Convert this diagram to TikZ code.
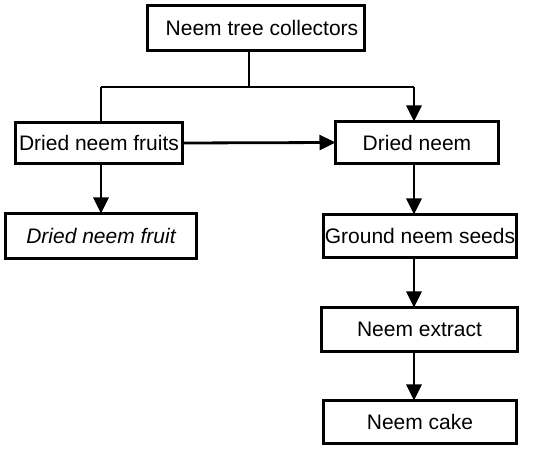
\documentclass[tikz,border=0pt]{standalone}
\usepackage{fontspec}
\setmainfont{Liberation Sans}
\usetikzlibrary{arrows.meta}
\begin{document}
\begin{tikzpicture}[x=1pt,y=-1pt,
  box/.style={draw=black,line width=3.2pt,rectangle,inner sep=0pt,outer sep=0pt,font=\fontsize{21}{25}\selectfont},
  link/.style={line width=2.8pt},
  arr/.style={link,-{Triangle[width=15pt,length=16pt]}}]
\useasboundingbox (0,0) rectangle (550,449);
\node[box,minimum width=217pt,minimum height=45pt] (top) at (256,28) {\hspace*{12pt}Neem tree collectors};
\node[box,minimum width=167pt,minimum height=41pt] (dnf) at (99,143) {Dried neem fruits};
\node[box,minimum width=163pt,minimum height=42pt] (dn) at (417,142.5) {Dried neem};
\node[box,minimum width=191pt,minimum height=45pt] (dnfi) at (101,236) {\itshape Dried neem fruit};
\node[box,minimum width=193pt,minimum height=43pt] (gns) at (420,236) {Ground neem seeds};
\node[box,minimum width=196pt,minimum height=44pt] (ne) at (419.5,329.5) {Neem extract};
\node[box,minimum width=193pt,minimum height=43pt] (nc) at (420,422) {Neem cake};
\coordinate (j) at (249,87);
\coordinate (jl) at (101,87);
\coordinate (jr) at (414,87);
\draw[link] (top.south -| j) -- (j);
\draw[link] (jl) -- (jr);
\draw[link] (jl) -- (jl |- dnf.north);
\draw[arr] (jr) -- (jr |- dn.north);
\draw[arr] (dnf.east) -- (dn.west);
\draw[arr] (jl |- dnf.south) -- (jl |- dnfi.north);
\draw[arr] (jr |- dn.south) -- (jr |- gns.north);
\draw[arr] (jr |- gns.south) -- (jr |- ne.north);
\draw[arr] (jr |- ne.south) -- (jr |- nc.north);
\end{tikzpicture}
\end{document}
